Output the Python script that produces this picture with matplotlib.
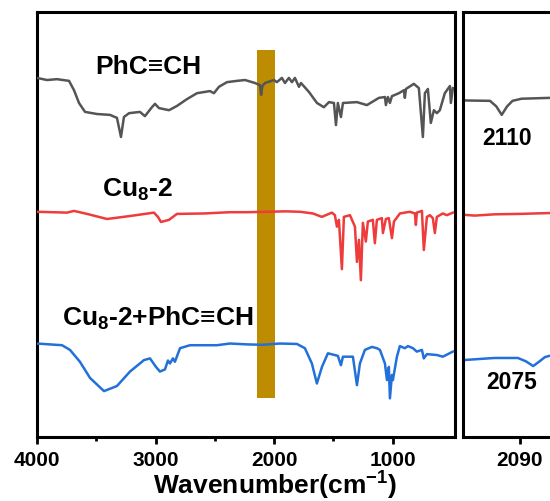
"""FT-IR spectra of PhC≡CH, Cu8-2 and Cu8-2+PhC≡CH with a zoom on the C≡C stretch."""
import matplotlib
matplotlib.use("Agg")
import matplotlib.pyplot as plt
from matplotlib.ticker import FixedLocator

plt.rcParams["font.family"] = ["Liberation Sans", "DejaVu Sans"]
plt.rcParams["font.weight"] = "bold"
plt.rcParams["mathtext.fontset"] = "custom"
plt.rcParams["mathtext.rm"] = "Liberation Sans:bold"
plt.rcParams["mathtext.bf"] = "Liberation Sans:bold"
plt.rcParams["mathtext.it"] = "Liberation Sans:bold"
plt.rcParams["mathtext.default"] = "bf"

# full range spectra (wavenumber, offset transmittance)
phc_wn = [4000, 3916, 3831, 3730, 3688, 3646, 3595, 3494, 3385, 3326, 3292, 3267,
          3224, 3132, 3090, 3031, 3005, 2972, 2887, 2820, 2736, 2651, 2542, 2508,
          2466, 2398, 2314, 2246, 2162, 2120, 2110, 2100, 2077, 2002, 1977, 1935,
          1909, 1876, 1850, 1825, 1791, 1774, 1707, 1639, 1581, 1538, 1496, 1479,
          1463, 1437, 1420, 1302, 1218, 1117, 1066, 1058, 1041, 1024, 1007, 948,
          906, 898, 889, 822, 780, 746, 729, 704, 679, 653, 628, 603, 561, 518,
          510, 493]
phc_t = [84.5, 84.0, 84.2, 83.8, 81.6, 78.6, 76.5, 76.0, 75.8, 75.1, 70.6, 75.3,
         76.2, 76.5, 75.5, 77.6, 78.4, 77.4, 76.9, 77.9, 79.5, 80.9, 81.4, 80.9,
         82.4, 83.5, 83.8, 84.0, 83.3, 82.8, 80.5, 82.6, 83.3, 84.0, 83.5, 84.5,
         83.3, 84.5, 83.5, 84.5, 82.4, 83.3, 81.2, 78.6, 77.6, 78.8, 78.6, 73.4,
         78.6, 75.3, 78.6, 78.8, 78.1, 79.8, 80.0, 78.1, 80.0, 78.6, 80.2, 80.9,
         81.6, 79.8, 81.9, 83.1, 82.1, 70.6, 80.9, 81.9, 73.9, 76.9, 76.2, 76.9,
         80.9, 82.6, 78.6, 82.1]

cu8_wn = [4000, 3747, 3688, 3578, 3410, 3216, 3014, 2980, 2955, 2887, 2820, 2592,
          2373, 2230, 2060, 1900, 1783, 1673, 1598, 1513, 1488, 1471, 1454, 1429,
          1412, 1361, 1319, 1302, 1285, 1269, 1252, 1227, 1210, 1168, 1151, 1134,
          1092, 1083, 1058, 1033, 1007, 990, 940, 856, 813, 805, 797, 754, 738,
          712, 687, 662, 645, 628, 578, 544, 493]
cu8_t = [53.0, 52.8, 53.2, 52.5, 51.3, 52.0, 52.8, 51.8, 50.6, 51.1, 52.5, 52.6,
         52.9, 52.9, 53.0, 53.1, 53.0, 52.6, 51.8, 52.8, 52.2, 49.5, 51.1, 39.5,
         51.8, 52.2, 49.5, 41.2, 46.4, 36.9, 50.4, 46.0, 50.7, 51.1, 45.6, 51.1,
         51.5, 48.0, 51.3, 51.5, 46.8, 50.7, 52.6, 53.0, 52.6, 49.9, 52.8, 53.2,
         44.0, 51.8, 52.2, 51.5, 48.0, 51.8, 52.6, 52.2, 52.8]

mix_wn = [4000, 3789, 3722, 3638, 3553, 3435, 3326, 3216, 3098, 3047, 2997, 2963,
          2921, 2896, 2879, 2854, 2837, 2794, 2710, 2483, 2373, 2230, 2100, 1952,
          1808, 1741, 1682, 1640, 1597, 1547, 1463, 1437, 1420, 1336, 1302, 1277,
          1235, 1176, 1134, 1108, 1066, 1049, 1033, 1024, 1007, 999, 965, 940, 898,
          872, 830, 797, 754, 738, 712, 628, 578, 493]
mix_t = [22.0, 21.6, 20.5, 17.7, 13.9, 10.8, 12.0, 15.4, 18.1, 18.5, 16.5, 15.4,
         15.9, 18.0, 17.3, 18.5, 17.7, 20.9, 21.6, 21.6, 22.0, 21.8, 21.7, 22.0,
         21.9, 20.9, 17.3, 12.6, 16.5, 19.7, 19.1, 16.9, 18.9, 18.9, 12.2, 17.3,
         20.5, 21.2, 20.9, 20.5, 17.3, 13.4, 16.5, 9.1, 14.6, 13.4, 18.9, 21.4,
         20.9, 21.4, 20.9, 20.1, 20.5, 18.5, 19.5, 19.3, 18.9, 20.1]

# C≡C stretch region
zoom_phc_wn = [2153, 2123, 2116, 2110, 2104, 2098, 2088, 2057, 2003]
zoom_phc_t = [79.2, 79.1, 77.8, 75.8, 77.8, 79.1, 79.6, 79.8, 79.8]
zoom_cu8_wn = [2153, 2140, 2118, 2090, 2057, 2003]
zoom_cu8_t = [52.3, 52.1, 52.4, 52.5, 52.7, 52.8]
zoom_mix_wn = [2153, 2118, 2092, 2083, 2075, 2068, 2062, 2057, 2003]
zoom_mix_t = [18.1, 18.6, 18.6, 17.8, 16.7, 17.8, 18.8, 19.1, 19.1]

band_lo, band_hi = 1994, 2145
band_bottom, band_top = 9.2, 91.1

GRAY = "#555555"
RED = "#EE3B3B"
BLUE = "#2270DA"
GOLD = "#BE8C00"

fig = plt.figure(figsize=(5.5, 5.01), dpi=100)
ax = fig.add_axes([0.0673, 0.1277, 0.7600, 0.8483])
ax2 = fig.add_axes([0.8418, 0.1277, 0.2455, 0.8483])

ax.fill_between([band_lo, band_hi], band_bottom, band_top, color=GOLD, lw=0, zorder=1)
ax.plot(phc_wn, phc_t, color=GRAY, lw=1.8, zorder=3)
ax.plot(cu8_wn, cu8_t, color=RED, lw=1.8, zorder=3)
ax.plot(mix_wn, mix_t, color=BLUE, lw=1.8, zorder=3)

ax.set_xlim(4000, 475)
ax.set_ylim(0, 100)
ax.xaxis.set_major_locator(FixedLocator([4000, 3000, 2000, 1000]))
ax.xaxis.set_minor_locator(FixedLocator([3500, 2500, 1500]))
ax.set_yticks([])

ax.text(3064, 87.1, "PhC≡CH", fontsize=19, ha="center", va="center")
ax.text(3150, 58.2, "Cu$_8$-2", fontsize=19, ha="center", va="center")
ax.text(2980, 28, "Cu$_8$-2+PhC≡CH", fontsize=19, ha="center", va="center")

ax2.plot(zoom_phc_wn, zoom_phc_t, color=GRAY, lw=1.8)
ax2.plot(zoom_cu8_wn, zoom_cu8_t, color=RED, lw=1.8)
ax2.plot(zoom_mix_wn, zoom_mix_t, color=BLUE, lw=1.8)
ax2.set_xlim(2153, 2003)
ax2.set_ylim(0, 100)
ax2.xaxis.set_major_locator(FixedLocator([2090]))
ax2.set_yticks([])
ax2.text(2104, 70.2, "2110", fontsize=16.5, ha="center", va="center")
ax2.text(2099, 12.9, "2075", fontsize=16.5, ha="center", va="center")

for a in (ax, ax2):
    for s in a.spines.values():
        s.set_linewidth(2.2)
    a.tick_params(axis="x", which="major", direction="out", length=5, width=2,
                  labelsize=15, pad=5)
    a.tick_params(axis="x", which="minor", direction="out", length=3, width=2)
    for lbl in a.get_xticklabels():
        lbl.set_fontweight("bold")

fig.text(0.5, 0.012, "Wavenumber(cm$^{-1}$)", fontsize=19, ha="center", va="baseline")

fig.savefig("out.png", dpi=100)
